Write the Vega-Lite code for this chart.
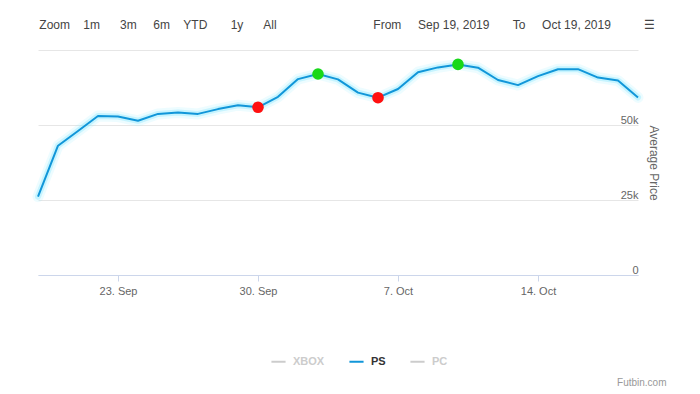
{
  "$schema": "https://vega.github.io/schema/vega-lite/v6.json",
  "width": 600,
  "height": 225,
  "autosize": {"type": "none"},
  "padding": {"left": 38, "top": 50, "right": 62, "bottom": 119},
  "background": "#ffffff",
  "title": {
    "text": "Zoom\u00a0\u00a0\u00a0\u00a01m\u00a0\u00a0\u00a0\u00a0\u00a0\u00a03m\u00a0\u00a0\u00a0\u00a0\u00a06m\u00a0\u00a0\u00a0\u00a0YTD\u00a0\u00a0\u00a0\u00a0\u00a0\u00a0\u00a01y\u00a0\u00a0\u00a0\u00a0\u00a0\u00a0All\u00a0\u00a0\u00a0\u00a0\u00a0\u00a0\u00a0\u00a0\u00a0\u00a0\u00a0\u00a0\u00a0\u00a0\u00a0\u00a0\u00a0\u00a0\u00a0\u00a0\u00a0\u00a0\u00a0\u00a0\u00a0\u00a0\u00a0\u00a0\u00a0From\u00a0\u00a0\u00a0\u00a0\u00a0Sep 19, 2019\u00a0\u00a0\u00a0\u00a0\u00a0\u00a0\u00a0To\u00a0\u00a0\u00a0\u00a0\u00a0Oct 19, 2019\u00a0\u00a0\u00a0\u00a0\u00a0\u00a0\u00a0\u00a0\u00a0\u00a0\u2630",
    "anchor": "start",
    "frame": "group",
    "orient": "top",
    "offset": 9,
    "baseline": "alphabetic",
    "dx": 1.3,
    "font": "Liberation Sans",
    "fontSize": 12,
    "fontWeight": "normal",
    "color": "#444444"
  },
  "data": {
    "values": [
      {"date": "2019-09-19", "price": 26100, "platform": "PS", "marker": null},
      {"date": "2019-09-20", "price": 43100, "platform": "PS", "marker": null},
      {"date": "2019-09-21", "price": 48000, "platform": "PS", "marker": null},
      {"date": "2019-09-22", "price": 53000, "platform": "PS", "marker": null},
      {"date": "2019-09-23", "price": 52800, "platform": "PS", "marker": null},
      {"date": "2019-09-24", "price": 51400, "platform": "PS", "marker": null},
      {"date": "2019-09-25", "price": 53700, "platform": "PS", "marker": null},
      {"date": "2019-09-26", "price": 54200, "platform": "PS", "marker": null},
      {"date": "2019-09-27", "price": 53700, "platform": "PS", "marker": null},
      {"date": "2019-09-28", "price": 55300, "platform": "PS", "marker": null},
      {"date": "2019-09-29", "price": 56600, "platform": "PS", "marker": null},
      {"date": "2019-09-30", "price": 55900, "platform": "PS", "marker": "low"},
      {"date": "2019-10-01", "price": 59400, "platform": "PS", "marker": null},
      {"date": "2019-10-02", "price": 65300, "platform": "PS", "marker": null},
      {"date": "2019-10-03", "price": 67000, "platform": "PS", "marker": "high"},
      {"date": "2019-10-04", "price": 65200, "platform": "PS", "marker": null},
      {"date": "2019-10-05", "price": 60800, "platform": "PS", "marker": null},
      {"date": "2019-10-06", "price": 59100, "platform": "PS", "marker": "low"},
      {"date": "2019-10-07", "price": 62000, "platform": "PS", "marker": null},
      {"date": "2019-10-08", "price": 67600, "platform": "PS", "marker": null},
      {"date": "2019-10-09", "price": 69200, "platform": "PS", "marker": null},
      {"date": "2019-10-10", "price": 70200, "platform": "PS", "marker": "high"},
      {"date": "2019-10-11", "price": 69100, "platform": "PS", "marker": null},
      {"date": "2019-10-12", "price": 65000, "platform": "PS", "marker": null},
      {"date": "2019-10-13", "price": 63300, "platform": "PS", "marker": null},
      {"date": "2019-10-14", "price": 66300, "platform": "PS", "marker": null},
      {"date": "2019-10-15", "price": 68600, "platform": "PS", "marker": null},
      {"date": "2019-10-16", "price": 68600, "platform": "PS", "marker": null},
      {"date": "2019-10-17", "price": 65800, "platform": "PS", "marker": null},
      {"date": "2019-10-18", "price": 64800, "platform": "PS", "marker": null},
      {"date": "2019-10-19", "price": 59200, "platform": "PS", "marker": null}
    ]
  },
  "encoding": {
    "x": {
      "field": "date",
      "type": "temporal",
      "scale": {
        "type": "utc",
        "domain": [
          {"year": 2019, "month": 9, "date": 19, "utc": true},
          {"year": 2019, "month": 10, "date": 19, "utc": true}
        ]
      },
      "axis": {
        "values": [
          {"year": 2019, "month": 9, "date": 23, "utc": true},
          {"year": 2019, "month": 9, "date": 30, "utc": true},
          {"year": 2019, "month": 10, "date": 7, "utc": true},
          {"year": 2019, "month": 10, "date": 14, "utc": true}
        ],
        "format": "%-d. %b",
        "grid": false,
        "domainColor": "#ccd6eb",
        "tickColor": "#ccd6eb",
        "tickSize": 6,
        "labelPadding": 4,
        "labelFlush": false,
        "labelOverlap": false,
        "labelColor": "#666666",
        "labelFont": "Liberation Sans",
        "labelFontSize": 11,
        "title": "Futbin.com",
        "titleX": 628,
        "titleY": 110,
        "titleAlign": "right",
        "titleBaseline": "alphabetic",
        "titleAnchor": null,
        "titleColor": "#999999",
        "titleFont": "Liberation Sans",
        "titleFontSize": 10,
        "titleFontWeight": "normal",
        "zindex": 2
      }
    },
    "y": {
      "field": "price",
      "type": "quantitative",
      "scale": {"domain": [0, 75000], "nice": false, "zero": true},
      "axis": {
        "orient": "right",
        "values": [0, 25000, 50000, 75000],
        "labelExpr": "datum.value == 0 ? '0' : (datum.value >= 75000 ? '' : format(datum.value / 1000, 'd') + 'k')",
        "domain": false,
        "ticks": false,
        "tickSize": 0,
        "grid": true,
        "gridColor": "#e6e6e6",
        "gridWidth": 1,
        "labelAlign": "right",
        "labelBaseline": "alphabetic",
        "labelPadding": 0,
        "labelOffset": -2,
        "labelColor": "#666666",
        "labelFont": "Liberation Sans",
        "labelFontSize": 11,
        "title": "Average Price",
        "titleAngle": 90,
        "titleX": 15,
        "titleY": 112.5,
        "titleAlign": "center",
        "titleBaseline": "middle",
        "titleAnchor": null,
        "titleColor": "#666666",
        "titleFont": "Liberation Sans",
        "titleFontSize": 12,
        "titleFontWeight": "normal",
        "zindex": 0
      }
    }
  },
  "layer": [
    {
      "mark": {"type": "line", "strokeWidth": 11, "color": "#9becff", "opacity": 0.18, "strokeJoin": "round", "strokeCap": "round"},
      "encoding": {}
    },
    {
      "mark": {"type": "line", "strokeWidth": 6, "color": "#7fe6ff", "opacity": 0.35, "strokeJoin": "round", "strokeCap": "round"},
      "encoding": {}
    },
    {
      "mark": {"type": "line", "strokeWidth": 2, "strokeJoin": "round"},
      "encoding": {
        "color": {
          "field": "platform",
          "type": "nominal",
          "scale": {"domain": ["XBOX", "PS", "PC"], "range": ["#cccccc", "#1196d9", "#cccccc"]},
          "legend": {
            "orient": "none",
            "legendX": 232,
            "legendY": 303,
            "direction": "horizontal",
            "title": null,
            "symbolType": "stroke",
            "symbolStrokeWidth": 2,
            "symbolSize": 200,
            "labelFont": "Liberation Sans",
            "labelFontSize": 11,
            "labelFontWeight": "bold",
            "labelColor": {"expr": "datum.label == 'PS' ? '#333333' : '#cccccc'"},
            "labelOffset": 6,
            "columnPadding": 20
          }
        }
      }
    },
    {
      "transform": [{"filter": "datum.marker != null"}],
      "mark": {"type": "circle", "size": 135, "opacity": 1},
      "encoding": {
        "fill": {
          "field": "marker",
          "type": "nominal",
          "scale": {"domain": ["low", "high"], "range": ["#ff1010", "#18d818"]},
          "legend": null
        }
      }
    }
  ],
  "config": {
    "view": {"stroke": null},
    "font": "Liberation Sans"
  }
}
